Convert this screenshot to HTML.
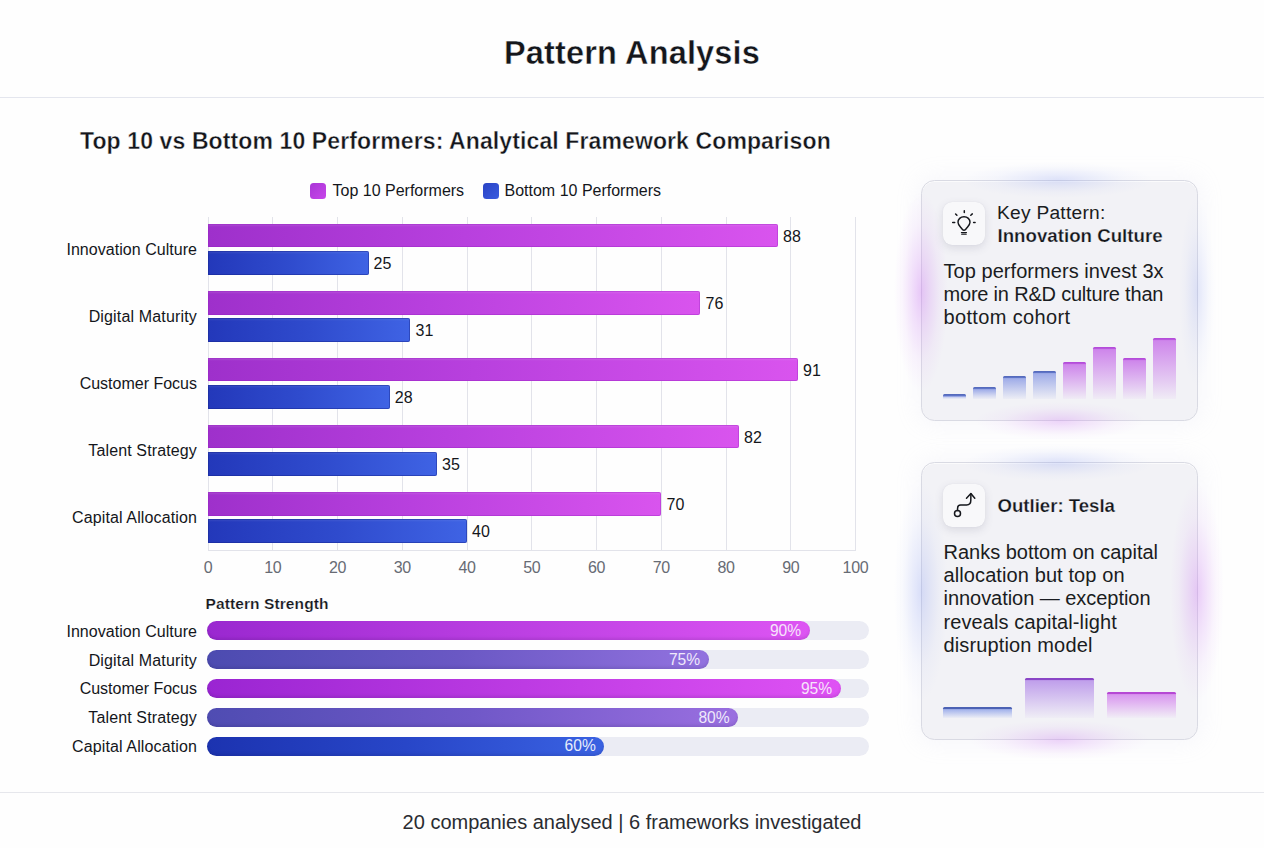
<!DOCTYPE html>
<html><head><meta charset="utf-8"><title>Pattern Analysis</title>
<style>
*{margin:0;padding:0;box-sizing:border-box}
html,body{width:1264px;height:848px;overflow:hidden}
body{position:relative;background:#fefefe;font-family:"Liberation Sans",sans-serif;color:#14161b}
.t{position:absolute;white-space:nowrap;line-height:1}
.b{font-weight:700}
.hr{position:absolute;left:0;width:1264px;height:1px;background:#e4e6ee}
.grid{position:absolute;width:1px;background:#e2e3ea}
.bar{position:absolute;border-radius:0 2px 2px 0}
.pu{background:linear-gradient(90deg,#9e30cb 0%,#b840de 45%,#d954ee 100%);box-shadow:inset 0 0 0 1px rgba(150,30,190,.35), inset 0 2px 2px rgba(255,255,255,.10)}
.bl{background:linear-gradient(90deg,#2338ba 0%,#2f4bcd 50%,#3f63e4 100%);box-shadow:inset 0 0 0 1px rgba(20,35,140,.45), inset 0 2px 2px rgba(255,255,255,.08)}
.val{font-size:16px;color:#14161b;letter-spacing:.1px}
.ax{font-size:16px;color:#676b74;text-align:center;width:40px;letter-spacing:-0.3px}
.lab{font-size:16px;text-align:right;width:160px;left:37px}
.track{position:absolute;left:207px;width:662px;height:19px;border-radius:10px;background:#ebecf4}
.fill{position:absolute;left:207px;height:19px;border-radius:10px}
.pct{font-size:15.6px;color:#f6e6fb;text-align:right}
.card{position:absolute;left:921px;width:276.5px;border-radius:13.5px;background:rgba(241,241,245,.93);border:1.2px solid #d9dae3;box-shadow:0 0 22px 4px rgba(200,200,228,.13),inset 0 1px 0 rgba(255,255,255,.7)}
.glow{position:absolute;border-radius:50%;filter:blur(16px)}
.ico{position:absolute;left:943px;width:42px;height:43px;border-radius:9px;background:#f8f8fa;box-shadow:0 3px 8px rgba(90,90,120,.16),0 0 1px rgba(90,90,120,.15)}
.ico svg{position:absolute;left:0;top:0}
.body{font-size:20px;color:#1a1c21}
.mb{position:absolute}
</style></head><body>

<div class="t b" style="left:0;width:1264px;text-align:center;top:36.79px;font-size:32.5px;letter-spacing:0.16px;-webkit-text-stroke:0.4px #fefefe">Pattern Analysis</div>
<div class="hr" style="top:97px"></div>
<div class="t b" style="left:80px;top:130.03px;font-size:23px;letter-spacing:0.11px;-webkit-text-stroke:0.36px #fefefe">Top 10 vs Bottom 10 Performers: Analytical Framework Comparison</div>
<div style="position:absolute;left:310px;top:182.5px;width:16px;height:16px;border-radius:3.5px;background:linear-gradient(135deg,#a935d6,#c845ea)"></div>
<div class="t" style="left:332.5px;top:182.71px;font-size:16px">Top 10 Performers</div>
<div style="position:absolute;left:482.5px;top:182.5px;width:16px;height:16px;border-radius:3.5px;background:linear-gradient(135deg,#2a43c4,#3a5ce0)"></div>
<div class="t" style="left:504.5px;top:182.71px;font-size:16px">Bottom 10 Performers</div>
<div class="grid" style="left:207.50px;top:217px;height:333.5px"></div>
<div class="grid" style="left:272.25px;top:217px;height:333.5px"></div>
<div class="grid" style="left:337.00px;top:217px;height:333.5px"></div>
<div class="grid" style="left:401.75px;top:217px;height:333.5px"></div>
<div class="grid" style="left:466.50px;top:217px;height:333.5px"></div>
<div class="grid" style="left:531.25px;top:217px;height:333.5px"></div>
<div class="grid" style="left:596.00px;top:217px;height:333.5px"></div>
<div class="grid" style="left:660.75px;top:217px;height:333.5px"></div>
<div class="grid" style="left:725.50px;top:217px;height:333.5px"></div>
<div class="grid" style="left:790.25px;top:217px;height:333.5px"></div>
<div class="grid" style="left:855.00px;top:217px;height:333.5px"></div>
<div class="grid" style="left:207.5px;top:550px;width:648px;height:1px"></div>
<div class="t ax" style="left:188.00px;top:560.46px">0</div>
<div class="t ax" style="left:252.75px;top:560.46px">10</div>
<div class="t ax" style="left:317.50px;top:560.46px">20</div>
<div class="t ax" style="left:382.25px;top:560.46px">30</div>
<div class="t ax" style="left:447.00px;top:560.46px">40</div>
<div class="t ax" style="left:511.75px;top:560.46px">50</div>
<div class="t ax" style="left:576.50px;top:560.46px">60</div>
<div class="t ax" style="left:641.25px;top:560.46px">70</div>
<div class="t ax" style="left:706.00px;top:560.46px">80</div>
<div class="t ax" style="left:770.75px;top:560.46px">90</div>
<div class="t ax" style="left:835.50px;top:560.46px">100</div>
<div class="bar pu" style="left:208.0px;top:223.6px;width:569.75px;height:23.8px"></div>
<div class="bar bl" style="left:208.0px;top:251.0px;width:160.60px;height:23.6px"></div>
<div class="t val" style="left:782.95px;top:228.66px">88</div>
<div class="t val" style="left:373.60px;top:255.66px">25</div>
<div class="t lab" style="top:242.06px;letter-spacing:0.04px">Innovation Culture</div>
<div class="bar pu" style="left:208.0px;top:290.9px;width:492.25px;height:23.8px"></div>
<div class="bar bl" style="left:208.0px;top:318.29999999999995px;width:202.40px;height:23.6px"></div>
<div class="t val" style="left:705.45px;top:295.96px">76</div>
<div class="t val" style="left:415.40px;top:322.96px">31</div>
<div class="t lab" style="top:309.36px;letter-spacing:0.16px">Digital Maturity</div>
<div class="bar pu" style="left:208.0px;top:357.7px;width:589.75px;height:23.8px"></div>
<div class="bar bl" style="left:208.0px;top:385.09999999999997px;width:181.70px;height:23.6px"></div>
<div class="t val" style="left:802.95px;top:362.76px">91</div>
<div class="t val" style="left:394.70px;top:389.76px">28</div>
<div class="t lab" style="top:376.16px;letter-spacing:0px">Customer Focus</div>
<div class="bar pu" style="left:208.0px;top:424.7px;width:530.75px;height:23.8px"></div>
<div class="bar bl" style="left:208.0px;top:452.09999999999997px;width:228.90px;height:23.6px"></div>
<div class="t val" style="left:743.95px;top:429.76px">82</div>
<div class="t val" style="left:441.90px;top:456.76px">35</div>
<div class="t lab" style="top:443.16px;letter-spacing:0.13px">Talent Strategy</div>
<div class="bar pu" style="left:208.0px;top:491.9px;width:453.25px;height:23.8px"></div>
<div class="bar bl" style="left:208.0px;top:519.3px;width:258.90px;height:23.6px"></div>
<div class="t val" style="left:666.45px;top:496.96px">70</div>
<div class="t val" style="left:471.90px;top:523.96px">40</div>
<div class="t lab" style="top:510.36px;letter-spacing:0.125px">Capital Allocation</div>
<div class="t b" style="left:205.5px;top:595.88px;font-size:15.5px;letter-spacing:0.1px;-webkit-text-stroke:0.2px #fefefe">Pattern Strength</div>
<div class="track" style="top:621.2px"></div>
<div class="fill" style="top:621.2px;width:602.5px;background:linear-gradient(90deg,#9a28d0,#bb3fe2 50%,#dd55f3);box-shadow:inset 0 -2px 3px rgba(0,0,40,.10)"></div>
<div class="t pct" style="left:741.10px;width:60px;top:622.99px;color:#f7e4fb">90%</div>
<div class="t lab" style="top:623.76px;letter-spacing:0.04px">Innovation Culture</div>
<div class="track" style="top:650.2px"></div>
<div class="fill" style="top:650.2px;width:501.5px;background:linear-gradient(90deg,#4c4bb0,#6a58c4 50%,#9272df);box-shadow:inset 0 -2px 3px rgba(0,0,40,.10)"></div>
<div class="t pct" style="left:640.10px;width:60px;top:651.99px;color:#efe9fb">75%</div>
<div class="t lab" style="top:652.76px;letter-spacing:0.16px">Digital Maturity</div>
<div class="track" style="top:678.9px"></div>
<div class="fill" style="top:678.9px;width:633.5px;background:linear-gradient(90deg,#9a25d2,#bd3be3 50%,#df52f4);box-shadow:inset 0 -2px 3px rgba(0,0,40,.10)"></div>
<div class="t pct" style="left:772.10px;width:60px;top:680.69px;color:#f7e4fb">95%</div>
<div class="t lab" style="top:681.46px;letter-spacing:0px">Customer Focus</div>
<div class="track" style="top:707.8px"></div>
<div class="fill" style="top:707.8px;width:531.0px;background:linear-gradient(90deg,#4f4cb2,#7058c8 50%,#9a6fe0);box-shadow:inset 0 -2px 3px rgba(0,0,40,.10)"></div>
<div class="t pct" style="left:669.60px;width:60px;top:709.59px;color:#efe9fb">80%</div>
<div class="t lab" style="top:710.36px;letter-spacing:0.13px">Talent Strategy</div>
<div class="track" style="top:736.5px"></div>
<div class="fill" style="top:736.5px;width:397.2px;background:linear-gradient(90deg,#1c33b0,#2846c8 50%,#3a62e2);box-shadow:inset 0 -2px 3px rgba(0,0,40,.10)"></div>
<div class="t pct" style="left:535.80px;width:60px;top:738.29px;color:#e6ecfb">60%</div>
<div class="t lab" style="top:739.06px;letter-spacing:0.125px">Capital Allocation</div>
<div class="hr" style="top:792px;background:#e6e7ec"></div>
<div class="t" style="left:0;width:1264px;text-align:center;top:811.82px;font-size:20px;color:#2a2c31">20 companies analysed | 6 frameworks investigated</div>
<div class="card" style="top:179.5px;height:241px"></div>
<div style="position:absolute;left:963px;top:162px;width:190px;height:36px;background:radial-gradient(ellipse closest-side at center,rgba(130,150,240,0.24) 0%,rgba(130,150,240,0.132) 35%,rgba(130,150,240,0.043) 68%,rgba(130,150,240,0) 100%)"></div>
<div style="position:absolute;left:1179px;top:197px;width:36px;height:190px;background:radial-gradient(ellipse closest-side at center,rgba(130,150,240,0.2) 0%,rgba(130,150,240,0.110) 35%,rgba(130,150,240,0.036) 68%,rgba(130,150,240,0) 100%)"></div>
<div style="position:absolute;left:894px;top:192px;width:54px;height:200px;background:radial-gradient(ellipse closest-side at center,rgba(200,110,240,0.36) 0%,rgba(200,110,240,0.198) 35%,rgba(200,110,240,0.065) 68%,rgba(200,110,240,0) 100%)"></div>
<div style="position:absolute;left:975px;top:401.5px;width:170px;height:38px;background:radial-gradient(ellipse closest-side at center,rgba(200,110,240,0.27) 0%,rgba(200,110,240,0.149) 35%,rgba(200,110,240,0.049) 68%,rgba(200,110,240,0) 100%)"></div>
<div class="ico" style="top:201.7px"><svg width="42" height="43" viewBox="0 0 42 43" fill="none" stroke="#15171c" stroke-width="1.5" stroke-linecap="round" stroke-linejoin="round">
<path d="M21 14.7C17.4 14.7 15 17.3 15 20.3C15 23.3 17.5 24.8 19.5 27.7Q21 28.7 22.5 27.7C24.5 24.8 27 23.3 27 20.3C27 17.3 24.6 14.7 21 14.7Z" stroke-width="1.45"/>
<path d="M18.4 30.6H23.5M18.7 32.2H23.2" stroke-width="1.15"/>
<path d="M21.3 8.8V10.4M12.6 12L13.9 13.3M29.3 11.9L27.8 13.2M9.7 20.6H11.7M30.6 20.6H32.1" stroke-width="1.5"/>
</svg></div>
<div class="t" style="left:997px;top:203.00px;font-size:19.2px;letter-spacing:.25px;color:#1a1c21">Key Pattern:</div>
<div class="t b" style="left:997.5px;top:227.07px;font-size:18.7px;-webkit-text-stroke:0.25px #f1f1f6">Innovation Culture</div>
<div class="t body" style="left:943.5px;top:260.57px;letter-spacing:0.05px">Top performers invest 3x</div>
<div class="t body" style="left:943.5px;top:283.72px;letter-spacing:-0.2px">more in R&amp;D culture than</div>
<div class="t body" style="left:943.5px;top:306.87px;letter-spacing:0.35px">bottom cohort</div>
<div class="mb" style="left:943.25px;top:393.75px;width:23px;height:5.00px;background:linear-gradient(180deg,#5166b8 0,#6076c8 1.7px,rgba(148,163,230,.88) 2.6px,rgba(172,183,234,.42) 72%,rgba(195,202,238,.12) 100%);border-radius:1.5px 1.5px 0 0"></div>
<div class="mb" style="left:973px;top:387.25px;width:23px;height:11.50px;background:linear-gradient(180deg,#5166b8 0,#6076c8 1.7px,rgba(148,163,230,.88) 2.6px,rgba(172,183,234,.42) 72%,rgba(195,202,238,.12) 100%);border-radius:1.5px 1.5px 0 0"></div>
<div class="mb" style="left:1003px;top:376px;width:23px;height:22.75px;background:linear-gradient(180deg,#5166b8 0,#6076c8 1.7px,rgba(148,163,230,.88) 2.6px,rgba(172,183,234,.42) 72%,rgba(195,202,238,.12) 100%);border-radius:1.5px 1.5px 0 0"></div>
<div class="mb" style="left:1033px;top:371px;width:23px;height:27.75px;background:linear-gradient(180deg,#5166b8 0,#6076c8 1.7px,rgba(148,163,230,.88) 2.6px,rgba(172,183,234,.42) 72%,rgba(195,202,238,.12) 100%);border-radius:1.5px 1.5px 0 0"></div>
<div class="mb" style="left:1063px;top:362px;width:23px;height:36.75px;background:linear-gradient(180deg,#b147d8 0,#bb58de 1.7px,rgba(203,125,234,.92) 2.6px,rgba(213,160,238,.46) 72%,rgba(224,192,242,.12) 100%);border-radius:1.5px 1.5px 0 0"></div>
<div class="mb" style="left:1092.75px;top:346.75px;width:23px;height:52.00px;background:linear-gradient(180deg,#b147d8 0,#bb58de 1.7px,rgba(203,125,234,.92) 2.6px,rgba(213,160,238,.46) 72%,rgba(224,192,242,.12) 100%);border-radius:1.5px 1.5px 0 0"></div>
<div class="mb" style="left:1122.75px;top:358px;width:23px;height:40.75px;background:linear-gradient(180deg,#b147d8 0,#bb58de 1.7px,rgba(203,125,234,.92) 2.6px,rgba(213,160,238,.46) 72%,rgba(224,192,242,.12) 100%);border-radius:1.5px 1.5px 0 0"></div>
<div class="mb" style="left:1152.75px;top:338px;width:23px;height:60.75px;background:linear-gradient(180deg,#b147d8 0,#bb58de 1.7px,rgba(203,125,234,.92) 2.6px,rgba(213,160,238,.46) 72%,rgba(224,192,242,.12) 100%);border-radius:1.5px 1.5px 0 0"></div>
<div class="card" style="top:462px;height:278px"></div>
<div style="position:absolute;left:963px;top:444.5px;width:190px;height:36px;background:radial-gradient(ellipse closest-side at center,rgba(130,150,240,0.24) 0%,rgba(130,150,240,0.132) 35%,rgba(130,150,240,0.043) 68%,rgba(130,150,240,0) 100%)"></div>
<div style="position:absolute;left:894px;top:482px;width:54px;height:220px;background:radial-gradient(ellipse closest-side at center,rgba(130,150,240,0.27) 0%,rgba(130,150,240,0.149) 35%,rgba(130,150,240,0.049) 68%,rgba(130,150,240,0) 100%)"></div>
<div style="position:absolute;left:1170px;top:482px;width:54px;height:220px;background:radial-gradient(ellipse closest-side at center,rgba(200,110,240,0.32) 0%,rgba(200,110,240,0.176) 35%,rgba(200,110,240,0.058) 68%,rgba(200,110,240,0) 100%)"></div>
<div style="position:absolute;left:970px;top:720px;width:180px;height:40px;background:radial-gradient(ellipse closest-side at center,rgba(200,110,240,0.28) 0%,rgba(200,110,240,0.154) 35%,rgba(200,110,240,0.050) 68%,rgba(200,110,240,0) 100%)"></div>
<div class="ico" style="top:484px"><svg width="42" height="43" viewBox="0 0 42 43" fill="none" stroke="#15171c" stroke-width="1.5" stroke-linecap="round" stroke-linejoin="round">
<circle cx="14.5" cy="29.5" r="3"/>
<path d="M14.5 26.4L14.6 24C14.7 21.6 15.8 21 17.6 21L23.6 21C26.6 21 27.8 19.8 27.8 16.6L27.9 9.8"/>
<path d="M23.5 14.2L27.9 9.5L31.8 14.2"/>
</svg></div>
<div class="t b" style="left:997.5px;top:497.06px;font-size:18.6px;-webkit-text-stroke:0.25px #f1f1f6">Outlier: Tesla</div>
<div class="t body" style="left:943.5px;top:541.82px;letter-spacing:0px">Ranks bottom on capital</div>
<div class="t body" style="left:943.5px;top:565.12px;letter-spacing:0.1px">allocation but top on</div>
<div class="t body" style="left:943.5px;top:588.42px;letter-spacing:-0.04px">innovation — exception</div>
<div class="t body" style="left:943.5px;top:611.72px;letter-spacing:0.1px">reveals capital-light</div>
<div class="t body" style="left:943.5px;top:635.02px;letter-spacing:0.14px">disruption model</div>
<div class="mb" style="left:943px;top:706.75px;width:68.5px;height:10.75px;background:linear-gradient(180deg,#4c62b4 0,#4c62b4 1.6px,rgba(150,168,234,.85) 2.6px,rgba(190,200,240,.10) 100%);border-radius:1.5px 1.5px 0 0"></div>
<div class="mb" style="left:1025px;top:678.25px;width:68.5px;height:39.25px;background:linear-gradient(180deg,#8a45c6 0,#8a45c6 1.6px,rgba(186,150,234,.9) 2.6px,rgba(215,200,242,.10) 100%);border-radius:1.5px 1.5px 0 0"></div>
<div class="mb" style="left:1107px;top:691.75px;width:68.5px;height:25.75px;background:linear-gradient(180deg,#b648d4 0,#b648d4 1.6px,rgba(214,140,238,.9) 2.6px,rgba(230,200,244,.10) 100%);border-radius:1.5px 1.5px 0 0"></div>
</body></html>
